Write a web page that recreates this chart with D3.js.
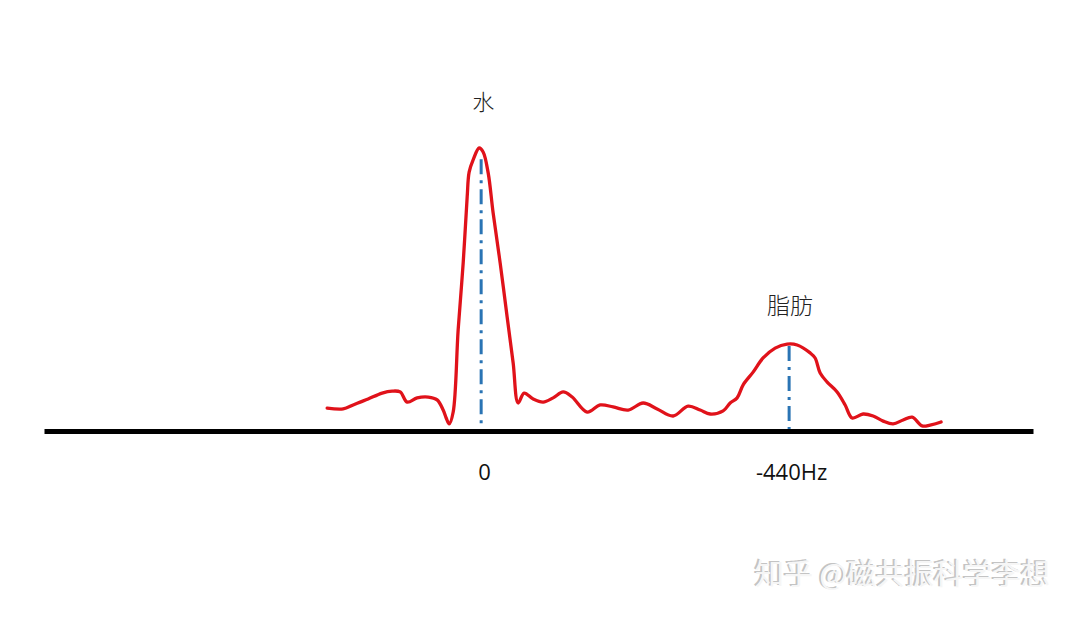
<!DOCTYPE html>
<html><head><meta charset="utf-8">
<script src="https://cdn.jsdelivr.net/npm/d3@7"></script>
<style>body{margin:0;background:#fff}svg{display:block}</style>
</head><body>
<svg id="c" width="1080" height="617"></svg>
<script>
// frequency offset (Hz) and signal amplitude (peak = 100)
const freq = [221.4,198.6,184.3,174.3,162.9,142.9,128.6,117.1,107.1,92.9,77.1,64.3,55.7,51.4,47.1,41.4,34.3,27.1,21.4,18.6,12.9,4.3,-1.4,-8.6,-15.7,-25.7,-35.7,-44.3,-51.4,-60,-72.9,-87.1,-101.4,-115.7,-128.6,-150,-168.6,-187.1,-208.6,-230,-250,-272.9,-294.3,-311.4,-325.7,-344.3,-354.3,-364.3,-372.9,-387.1,-401.4,-418.6,-435.7,-450,-468.6,-475.7,-482.9,-492.9,-507.1,-518.6,-528.6,-544.3,-558.6,-572.9,-587.1,-601.4,-614.3,-628.6,-640,-655.7];
const amp = [8.1,7.8,9.2,10.2,11.3,13.4,14.1,13.8,10.2,11.7,12.0,11.0,7.4,4.6,2.5,6.7,35.7,59.4,82.7,91.5,95.8,100,98.6,91.2,77.0,59.4,40.3,24.0,9.9,13.4,11.3,10.2,11.7,13.8,12.0,6.7,9.2,8.5,7.4,9.9,7.8,5.3,8.8,7.4,6.0,7.1,9.9,11.7,16.3,20.8,25.8,29.3,30.7,30.4,27.6,25.8,20.5,17.3,13.8,9.2,4.6,6.0,5.3,3.5,2.5,3.9,4.9,1.8,2.1,3.2];
const axisExtent = [626, -787];
const tickValues = [0, -440];
const tickLabels = ["0", "-440Hz"];
const peakNames = ["水", "脂肪"];
const peakFreq = [0, -440];
const peakAmp = [96, 30];

const svg = d3.select("#c");
const x = d3.scaleLinear().domain(axisExtent).range([44, 1033]);
const y = d3.scaleLinear().domain([0, 100]).range([431, 148]);

// dash-dot peak markers
svg.selectAll("line.mk").data(peakFreq).join("line")
  .attr("x1", d => x(d) - 1).attr("x2", d => x(d) - 1)
  .attr("y1", (d, i) => y(peakAmp[i])).attr("y2", y(0))
  .attr("stroke", "#2a74b4").attr("stroke-width", 3)
  .attr("stroke-dasharray", "15,6,3,6");

// signal
const line = d3.line().x((d, i) => x(freq[i])).y(d => y(d)).curve(d3.curveCatmullRom.alpha(0.5));
svg.append("path").datum(amp).attr("d", line)
  .attr("fill", "none").attr("stroke", "#e0121a").attr("stroke-width", 3.3)
  .attr("stroke-linejoin", "round").attr("stroke-linecap", "round");

// axis
const ax = svg.append("g").attr("transform", `translate(0,${y(0)})`)
  .call(d3.axisBottom(x).tickValues(tickValues).tickSize(0).tickSizeOuter(0)
    .tickFormat((d, i) => tickLabels[i]));
ax.select(".domain").attr("stroke", "#000").attr("stroke-width", 5);
ax.selectAll(".tick text").attr("font-family", "'Open Sans', sans-serif")
  .attr("font-size", 22).attr("fill", "#111").attr("dy", 0).attr("y", 49)
  .attr("dx", (d, i) => i === 0 ? 2 : 1);

// peak labels
svg.selectAll("text.pk").data(peakNames).join("text")
  .attr("x", (d, i) => x(peakFreq[i]) + (i === 0 ? 1 : 0))
  .attr("y", (d, i) => i === 0 ? 110 : 314)
  .attr("text-anchor", "middle")
  .attr("font-family", "'Noto Sans CJK SC', sans-serif")
  .attr("font-weight", 300)
  .attr("font-size", (d, i) => i === 0 ? 22 : 23)
  .attr("fill", "#222").text(d => d);

// watermark
const wm = "知乎 @磁共振科学李想";
svg.append("text").attr("x", 753).attr("y", 584).attr("font-family", "'Noto Sans CJK SC', sans-serif")
  .attr("font-size", 29).attr("fill", "#c4c4c4").text(wm);
svg.append("text").attr("x", 755).attr("y", 585).attr("font-family", "'Noto Sans CJK SC', sans-serif")
  .attr("font-size", 29).attr("fill", "#f6f6f6").text(wm);
</script>
</body></html>
